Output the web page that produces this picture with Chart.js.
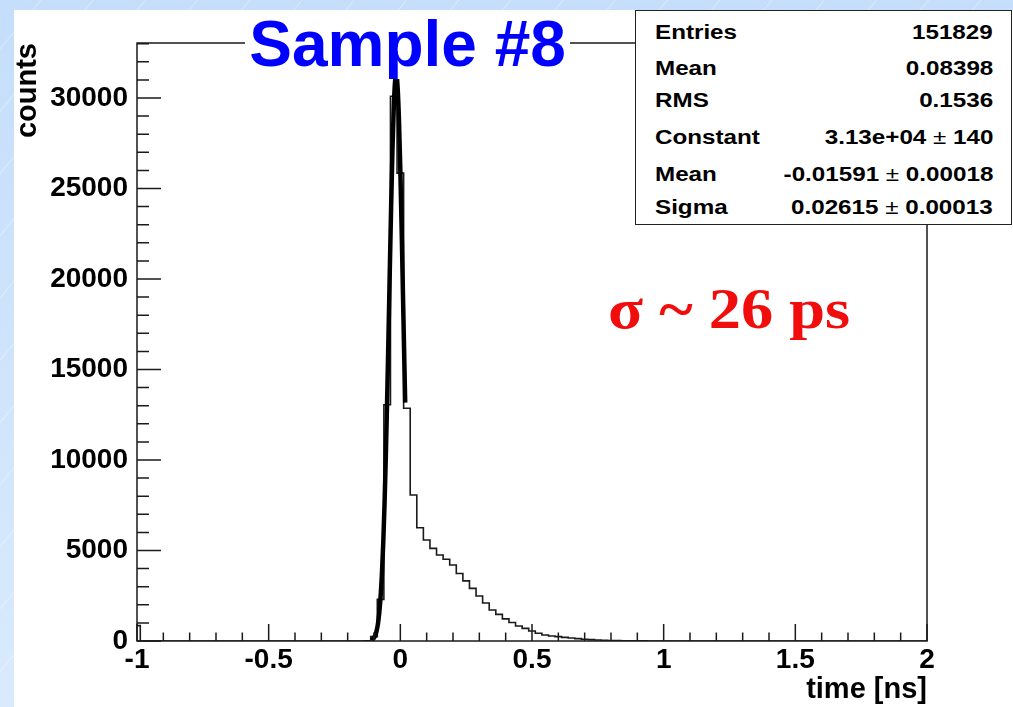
<!DOCTYPE html>
<html>
<head>
<meta charset="utf-8">
<script src="https://cdn.jsdelivr.net/npm/chart.js@4.4.0/dist/chart.umd.min.js"></script>
<style>
html,body{margin:0;padding:0;}
body{width:1013px;height:707px;overflow:hidden;position:relative;
  background:
   repeating-linear-gradient(-50deg, rgba(255,255,255,0) 0px, rgba(255,255,255,0) 38px, rgba(255,255,255,0.35) 39px, rgba(255,255,255,0) 40px),
   linear-gradient(#c4defb,#d9eafc);}
#sheet{position:absolute;left:14px;top:10px;width:999px;height:697px;background:#fff;}
#c{position:absolute;left:0;top:0;}
#title{position:absolute;left:245px;top:12px;width:325px;height:67px;background:#fff;color:#0000ff;
  font:bold 64px "Liberation Sans",Arial,sans-serif;text-align:center;line-height:64px;white-space:nowrap;}
#stats{position:absolute;left:635px;top:10px;width:377px;height:215px;background:#fff;border:1.5px solid #222;box-sizing:border-box;}
.nm,.vl{position:absolute;font:bold 20px "Liberation Sans",Arial,sans-serif;line-height:24px;height:24px;white-space:nowrap;color:#000;}
.nm{left:19px;transform:scaleX(1.21);transform-origin:left center;}
.vl{right:18px;transform:scaleX(1.21);transform-origin:right center;}
.pm{font-weight:normal;}
#sig{position:absolute;left:608px;top:279px;font:bold 56px "Liberation Serif","Times New Roman",serif;line-height:60px;color:#f20d0d;
  transform:scaleX(1.15);transform-origin:left center;white-space:nowrap;}
</style>
</head>
<body>
<div id="sheet"></div>
<canvas id="c" width="1013" height="707"></canvas>
<div id="title">Sample #8</div>
<div id="stats"></div>
<div id="sig">σ ~ 26 ps</div>
<script>
// ---- data ----
const firstBinCenter = -1.0;   // ns
const binWidth = 0.025;        // ns
const counts = [
  850,
  0,0,0,0,0,0,0,0,0,0, 0,0,0,0,0,0,0,0,0,0, 0,0,0,0,0,0,0,0,0,0, 0,0,0,0,10,
  240, 2300, 13050, 30100, 25850, 12860, 8070, 6260, 5580, 5120,
  4750, 4520, 4200, 3730, 3320, 2910, 2490, 2100, 1710, 1470,
  1220, 1020, 830, 700, 550, 430, 330, 280, 240, 200,
  165, 130, 100, 75, 55, 42, 30, 22, 15, 10,
  7, 5, 3, 2, 1,
  0,0,0,0,0,0,0,0,0,0, 0,0,0,0,0,0,0,0,0,0, 0,0,0,0,0,0,0,0,0,0, 0,0,0,0,0,0,0,0,0,0
];
const fitX = [-0.110,-0.105,-0.100,-0.095,-0.090,-0.085,-0.080,-0.075,-0.070,-0.065,-0.060,-0.055,-0.050,-0.045,
  -0.040,-0.035,-0.030,-0.025,-0.020,-0.015,-0.010,-0.005,0.000,0.005,0.010,0.015,0.0185];
const fitY = [48,94,178,323,565,955,1554,2436,3687,5374,7556,10241,13384,16858,
  20477,23977,27071,29466,30918,31281,30512,28692,26011,22737,19159,15566,13168];
const xTickLabels = [-1,-0.5,0,0.5,1,1.5,2];
const yTickLabels = [0,5000,10000,15000,20000,25000,30000];
const statNames  = ["Entries","Mean","RMS","Constant","Mean","Sigma"];
const statValues = ["151829","0.08398","0.1536","3.13e+04 ± 140","-0.01591 ± 0.00018","0.02615 ± 0.00013"];

// ---- axis settings ----
const xMin = -1, xMax = 2, xMinorStep = 0.1, xMajorEvery = 5;
const yMin = 0, yMax = 33040, yMinorStep = 1000, yMajorStep = 5000;

// stats box rows
const statTops = [8.5, 44.5, 76.5, 113.5, 150.5, 183.5];
const stats = document.getElementById('stats');
statNames.forEach((n,i)=>{
  const a=document.createElement('div'); a.className='nm'; a.style.top=statTops[i]+'px'; a.textContent=n; stats.appendChild(a);
  const b=document.createElement('div'); b.className='vl'; b.style.top=statTops[i]+'px';
  const parts = statValues[i].split('±');
  if(parts.length===2){
    b.appendChild(document.createTextNode(parts[0]));
    const s=document.createElement('span'); s.className='pm'; s.textContent='±'; b.appendChild(s);
    b.appendChild(document.createTextNode(parts[1]));
  } else b.textContent=statValues[i];
  stats.appendChild(b);
});

const histPoints = counts.map((c,i)=>({x:firstBinCenter+i*binWidth, y:c}));
const fitPoints = fitX.map((x,i)=>({x:x, y:fitY[i]}));

const frameTicks = {
  id:'frameTicks',
  afterDatasetsDraw(chart){
    const {ctx, chartArea:a, scales:{x,y}} = chart;
    ctx.save();
    ctx.strokeStyle='#1a1a1a'; ctx.lineWidth=1.5;
    ctx.strokeRect(a.left, a.top, a.right-a.left, a.bottom-a.top);
    ctx.beginPath();
    for(let k=0; k*yMinorStep<=yMax; k++){
      const v=k*yMinorStep, p=y.getPixelForValue(v);
      const len = (v % yMajorStep === 0) ? 24 : 12;
      ctx.moveTo(a.left,p); ctx.lineTo(a.left+len,p);
    }
    const nx = Math.round((xMax-xMin)/xMinorStep);
    for(let k=0;k<=nx;k++){
      const p=x.getPixelForValue(xMin+k*xMinorStep);
      const len=(k%xMajorEvery===0)?17:8.5;
      ctx.moveTo(p,a.bottom); ctx.lineTo(p,a.bottom-len);
    }
    ctx.stroke();
    ctx.restore();
  }
};

const tickFont = {family:'"Liberation Sans", Arial, sans-serif', size:28, weight:'bold'};
const titleFont = {family:'"Liberation Sans", Arial, sans-serif', size:29, weight:'bold'};

new Chart(document.getElementById('c'), {
  type:'line',
  data:{datasets:[
    {label:'fit', data:fitPoints, borderColor:'#000', borderWidth:4.5, pointRadius:0, fill:false,
     cubicInterpolationMode:'monotone', order:0},
    {label:'hist', data:histPoints, borderColor:'#1a1a1a', borderWidth:1.6, pointRadius:0, fill:false,
     stepped:'middle', order:1}
  ]},
  options:{
    responsive:false, animation:false, devicePixelRatio:1,
    layout:{padding:{left:0,top:43,right:86,bottom:0}},
    plugins:{legend:{display:false}, tooltip:{enabled:false}},
    scales:{
      x:{type:'linear', min:xMin, max:xMax,
        afterBuildTicks:(s)=>{ s.ticks = xTickLabels.map(v=>({value:v})); },
        afterFit:(s)=>{ s.height = 66; },
        grid:{display:false, drawTicks:false}, border:{display:false},
        ticks:{font:tickFont, color:'#000', padding:2, maxRotation:0, autoSkip:false, callback:(v)=>String(v)},
        title:{display:true, text:'time [ns]', align:'end', font:titleFont, color:'#000', padding:{top:0,bottom:0}}
      },
      y:{type:'linear', min:yMin, max:yMax,
        afterBuildTicks:(s)=>{ s.ticks = yTickLabels.map(v=>({value:v})); },
        afterFit:(s)=>{ s.width = 137; },
        grid:{display:false, drawTicks:false}, border:{display:false},
        ticks:{font:tickFont, color:'#000', padding:9, autoSkip:false, callback:(v)=>String(v)},
        title:{display:true, text:'counts', align:'end', font:titleFont, color:'#000', padding:{top:11,bottom:0}}
      }
    }
  },
  plugins:[frameTicks]
});
</script>
</body>
</html>
